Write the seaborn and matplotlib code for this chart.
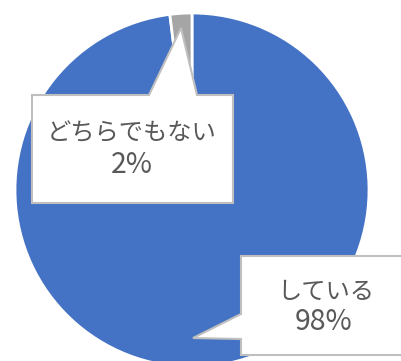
import matplotlib
matplotlib.use("Agg")
import matplotlib.pyplot as plt
from matplotlib.patches import Polygon
import seaborn as sns

# Data
categories = ["している", "どちらでもない"]
values = [98, 2]
pct_labels = ["98%", "2%"]
colors = ["#4472C4", "#A5A5A5"]

sns.set_theme(style="white")
plt.rcParams['font.family'] = ['Noto Sans CJK JP', 'DejaVu Sans']

W, H = 401, 361
fig = plt.figure(figsize=(W / 100, H / 100), dpi=100)
ax = fig.add_axes([0, 0, 1, 1])
ax.set_xlim(0, W)
ax.set_ylim(0, H)
ax.set_aspect("equal")
ax.axis("off")


def Y(y):
    return H - y


ax.pie(values, colors=colors, startangle=90, counterclock=False,
       center=(192, Y(190)), radius=177,
       wedgeprops=dict(edgecolor="white", linewidth=2))
ax.set_xlim(0, W)
ax.set_ylim(0, H)

text_color = "#595959"
edge = "#BFBFBF"

# Callout for どちらでもない (pointer up)
box1 = [(32, 95), (149, 95), (181, 28), (197, 95), (233, 95),
        (233, 203), (32, 203)]
ax.add_patch(Polygon([(x, Y(y)) for x, y in box1], closed=True,
                     facecolor="white", edgecolor=edge, linewidth=1.5, zorder=5))
ax.text(132, Y(133), categories[1], ha="center", va="center",
        fontsize=17.5, color=text_color, zorder=6)
ax.text(132, Y(165), pct_labels[1], ha="center", va="center",
        fontsize=20.5, color=text_color, zorder=6)

# Callout for している (pointer left)
box2 = [(241, 256), (410, 256), (410, 355), (241, 355), (241, 339),
        (193, 338), (241, 314)]
ax.add_patch(Polygon([(x, Y(y)) for x, y in box2], closed=True,
                     facecolor="white", edgecolor=edge, linewidth=1.5, zorder=5))
ax.text(326, Y(292), categories[0], ha="center", va="center",
        fontsize=17.5, color=text_color, zorder=6)
ax.text(324, Y(322), pct_labels[0], ha="center", va="center",
        fontsize=20.5, color=text_color, zorder=6)

fig.savefig("out.png", dpi=100, facecolor="white")
